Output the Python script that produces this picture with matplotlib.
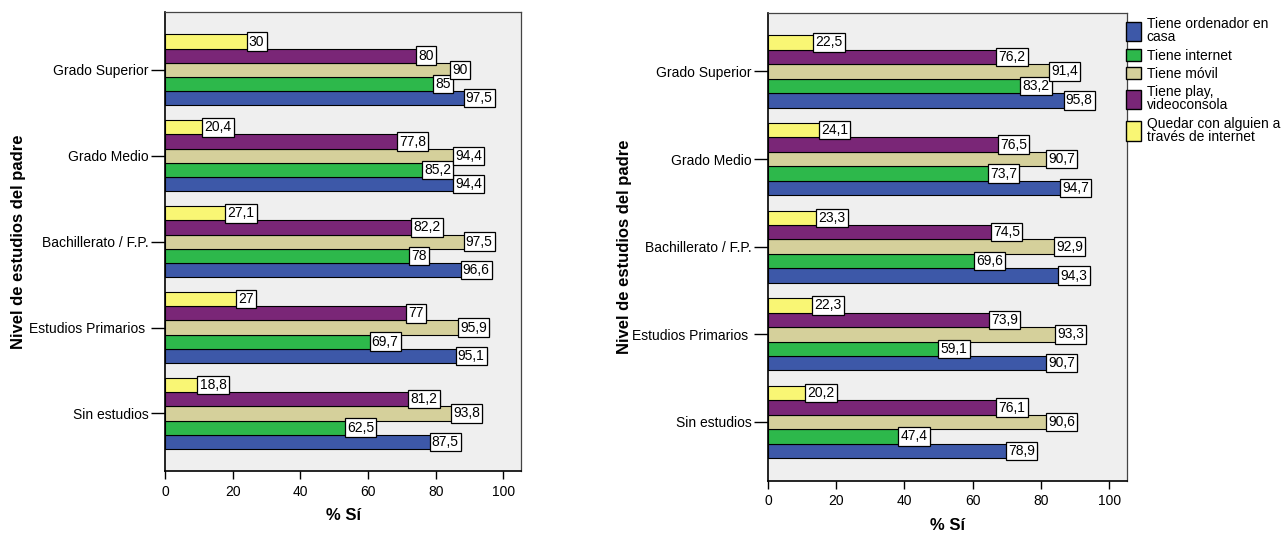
import matplotlib
matplotlib.use("Agg")
import matplotlib.pyplot as plt
from matplotlib.legend_handler import HandlerPatch
from matplotlib.patches import Rectangle
from matplotlib.container import BarContainer

plt.rcParams['font.family'] = ['Liberation Sans', 'DejaVu Sans']

categories = ["Sin estudios", "Estudios Primarios ", "Bachillerato / F.P.", "Grado Medio", "Grado Superior"]
series_names = ["Tiene ordenador en\ncasa", "Tiene internet", "Tiene móvil",
                "Tiene play,\nvideoconsola", "Quedar con alguien a\ntravés de internet"]
colors = ["#3D58A8", "#2DB84B", "#D5D09B", "#7A2677", "#F9F674"]

# values per category (bottom->top order of categories above)
left_ordenador = [87.5, 95.1, 96.6, 94.4, 97.5]
left_internet = [62.5, 69.7, 78, 85.2, 85]
left_movil = [93.8, 95.9, 97.5, 94.4, 90]
left_play = [81.2, 77, 82.2, 77.8, 80]
left_quedar = [18.8, 27, 27.1, 20.4, 30]

right_ordenador = [78.9, 90.7, 94.3, 94.7, 95.8]
right_internet = [47.4, 59.1, 69.6, 73.7, 83.2]
right_movil = [90.6, 93.3, 92.9, 90.7, 91.4]
right_play = [76.1, 73.9, 74.5, 76.5, 76.2]
right_quedar = [20.2, 22.3, 23.3, 24.1, 22.5]

xticks = [0, 20, 40, 60, 80, 100]
xlabel = "% Sí"
ylabel = "Nivel de estudios del padre"

FIG_W, FIG_H = 1288, 534
fig = plt.figure(figsize=(FIG_W / 100, FIG_H / 100), dpi=100)

def px_axes(l, t, r, b):
    return fig.add_axes([l / FIG_W, 1 - b / FIG_H, (r - l) / FIG_W, (b - t) / FIG_H])

ax1 = px_axes(165, 12.3, 521.3, 471)
ax2 = px_axes(768, 12.7, 1127.3, 480.7)

FS = 10
BAR_H = 0.165

def fmt(v):
    return ("%g" % v).replace(".", ",")

def draw(ax, data):
    ax.set_facecolor("#EFEFEF")
    ypos = list(range(len(categories)))
    containers = []
    for k, (vals, name, col) in enumerate(zip(data, series_names, colors)):
        off = (k - 2) * BAR_H
        ys = [y + off for y in ypos]
        bc = ax.barh(ys, vals, height=BAR_H, color=col, edgecolor="black",
                     linewidth=0.8, label=name, zorder=2)
        containers.append(bc)
        for y, v in zip(ys, vals):
            ax.annotate(fmt(v), xy=(v, y), xytext=(-1.6, 0), textcoords="offset points",
                        ha="right", va="center", fontsize=FS, zorder=5,
                        bbox=dict(boxstyle="square,pad=0.16", fc="white", ec="black", lw=0.9))
    ax.set_xlim(0, 105.3)
    ax.set_ylim(-0.67, len(categories) - 1 + 0.67)
    ax.set_xticks(xticks)
    ax.set_xticklabels([str(t) for t in xticks], fontsize=FS)
    ax.set_yticks(ypos)
    ax.set_yticklabels(categories, fontsize=FS)
    ax.tick_params(axis="y", length=10, width=1, pad=1.7)
    ax.tick_params(axis="x", length=5.8, width=1, pad=4)
    for s in ["top", "right"]:
        ax.spines[s].set_color("#444444")
        ax.spines[s].set_linewidth(0.9)
    for s in ["left", "bottom"]:
        ax.spines[s].set_color("black")
        ax.spines[s].set_linewidth(1.2)
    ax.set_xlabel(xlabel, fontsize=12, fontweight="bold", labelpad=7)
    ax.set_ylabel(ylabel, fontsize=12, fontweight="bold")
    return containers

draw(ax1, [left_ordenador, left_internet, left_movil, left_play, left_quedar])
conts = draw(ax2, [right_ordenador, right_internet, right_movil, right_play, right_quedar])
ax1.yaxis.set_label_coords((26 - 165) / 356.3, 0.5)
ax2.yaxis.set_label_coords((632 - 768) / 359.3, 0.5)


def patch_func(legend, orig_handle, xdescent, ydescent, width, height, fontsize):
    lbl = orig_handle.get_label() if hasattr(orig_handle, "get_label") else ""
    hh = height * (1.55 if "\n" in str(lbl) else 1.0)
    return Rectangle((-xdescent, -ydescent + (height - hh) / 2), width, hh)


class TallHandler(HandlerPatch):
    def __init__(self):
        super().__init__(patch_func=patch_func)

    def create_artists(self, legend, orig_handle, xdescent, ydescent, width, height, fontsize, trans):
        p = self._create_patch(legend, orig_handle, xdescent, ydescent, width, height, fontsize)
        src = orig_handle.patches[0]
        p.set_facecolor(src.get_facecolor())
        p.set_edgecolor("black")
        p.set_linewidth(1.0)
        p.set_transform(trans)
        return [p]


leg = fig.legend(conts, series_names, loc="upper left",
                 bbox_to_anchor=(1126 / FIG_W, 1 - 17 / FIG_H), frameon=False,
                 fontsize=FS, handlelength=1.1, handleheight=1.0,
                 handletextpad=0.4, labelspacing=0.3, borderpad=0, borderaxespad=0,
                 handler_map={BarContainer: TallHandler()})
for t in leg.get_texts():
    t.set_linespacing(0.95)

fig.savefig("out.png", dpi=100)
